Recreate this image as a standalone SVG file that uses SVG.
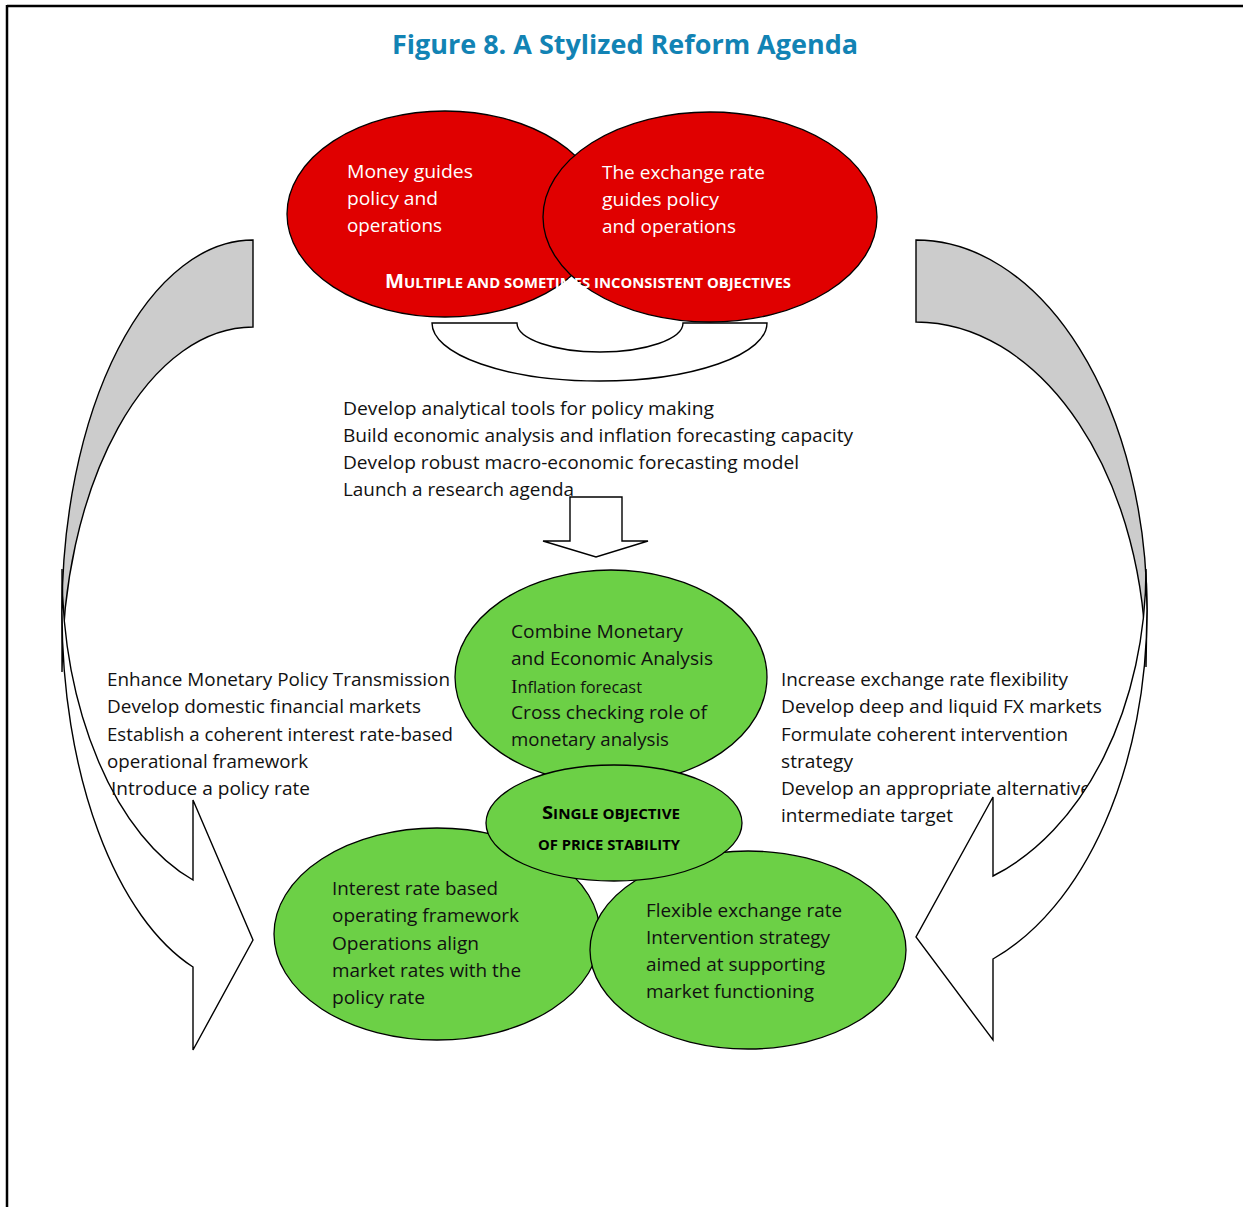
<svg xmlns="http://www.w3.org/2000/svg" width="1243" height="1207" viewBox="0 0 1243 1207">
<style>
  .t { font-family: 'Open Sans', 'Noto Sans', sans-serif; font-size: 18px; fill: #111; }
  .w { font-family: 'Open Sans', 'Noto Sans', sans-serif; font-size: 19px; fill: #fff; }
  .sc { font-family: 'Open Sans', 'Noto Sans', sans-serif; font-weight: 700; }
  .red { fill: #E00000; stroke: #000; stroke-width: 1.3; }
  .grn { fill: #6CD046; stroke: #000; stroke-width: 1.3; }
  .arr { fill: #fff; stroke: #000; stroke-width: 1.4; stroke-linejoin: miter; }
  .back { fill: #CCCCCC; stroke: #000; stroke-width: 1.4; }
</style>
<rect width="1243" height="1207" fill="#fff"/>
<g id="frame" stroke="#000" stroke-width="2.5">
  <line x1="7" y1="6" x2="1243" y2="6"/>
  <line x1="7" y1="5" x2="7" y2="1207"/>
</g>
<text id="title" x="392" y="54" textLength="466" lengthAdjust="spacingAndGlyphs" font-family="'Open Sans', 'Noto Sans', sans-serif" font-weight="700" font-size="27" fill="#1283B4">Figure 8. A Stylized Reform Agenda</text>

<g id="connectors">
  <path id="left-arrow-back" class="back" d="M253,240 A191,373 0 0 0 62,613 L62,672 A191,345 0 0 1 253,327 Z"/>
  <path id="left-arrow-front" class="arr" d="M62,613 A191,373 0 0 0 193,967 L193,1050 L253,940 L193,800 L193,880 A191,328 0 0 1 62,569 Z"/>
  <path id="right-arrow-back" class="back" d="M916,240 A231,370 0 0 1 1147,610 L1146,667 A230,345 0 0 0 916,322 Z"/>
  <path id="u-turn" class="arr" d="M432,323 L517,323 A83,29 0 0 0 683,323 L767,323 A167.5,58 0 0 1 432,323 Z"/>
  <path id="down-arrow" class="arr" d="M570,497 L622,497 L622,541 L648,541 L596,557 L543,541 L570,541 Z"/>
</g>

<g id="node-money">
  <ellipse class="red" cx="445" cy="214" rx="158" ry="103"/>
  <text class="w" x="347" y="178" textLength="126" lengthAdjust="spacingAndGlyphs">Money guides</text>
  <text class="w" x="347" y="205" textLength="91" lengthAdjust="spacingAndGlyphs">policy and</text>
  <text class="w" x="347" y="232" textLength="95" lengthAdjust="spacingAndGlyphs">operations</text>
</g>
<g id="node-exchange">
  <ellipse class="red" cx="710" cy="217" rx="167" ry="105"/>
  <text class="w" x="602" y="179" textLength="163" lengthAdjust="spacingAndGlyphs">The exchange rate</text>
  <text class="w" x="602" y="206" textLength="117" lengthAdjust="spacingAndGlyphs">guides policy</text>
  <text class="w" x="602" y="233" textLength="134" lengthAdjust="spacingAndGlyphs">and operations</text>
</g>
<text id="label-multiple" class="sc" x="385" y="288" fill="#fff" textLength="406" lengthAdjust="spacingAndGlyphs"><tspan font-size="19">M</tspan><tspan font-size="14">ULTIPLE AND SOMETIMES INCONSISTENT OBJECTIVES</tspan></text>

<g id="text-analytical">
  <text class="t" x="343" y="415" textLength="371" lengthAdjust="spacingAndGlyphs">Develop analytical tools for policy making</text>
  <text class="t" x="343" y="442" textLength="510" lengthAdjust="spacingAndGlyphs">Build economic analysis and inflation forecasting capacity</text>
  <text class="t" x="343" y="469" textLength="456" lengthAdjust="spacingAndGlyphs">Develop robust macro-economic forecasting model</text>
  <text class="t" x="343" y="496" textLength="231" lengthAdjust="spacingAndGlyphs">Launch a research agenda</text>
</g>

<g id="node-combine">
  <ellipse class="grn" cx="611" cy="677" rx="156" ry="107"/>
  <text class="t" x="511" y="638" textLength="172" lengthAdjust="spacingAndGlyphs">Combine Monetary</text>
  <text class="t" x="511" y="665" textLength="202" lengthAdjust="spacingAndGlyphs">and Economic Analysis</text>
  <text class="t" x="511" y="693" textLength="131" lengthAdjust="spacingAndGlyphs"><tspan font-family="'Liberation Serif', serif" font-size="19">I</tspan><tspan font-size="16">nflation forecast</tspan></text>
  <text class="t" x="511" y="719" textLength="196" lengthAdjust="spacingAndGlyphs">Cross checking role of</text>
  <text class="t" x="511" y="746" textLength="158" lengthAdjust="spacingAndGlyphs">monetary analysis</text>
</g>
<g id="node-interest">
  <ellipse class="grn" cx="437" cy="934" rx="163" ry="106"/>
  <text class="t" x="332" y="895" textLength="166" lengthAdjust="spacingAndGlyphs">Interest rate based</text>
  <text class="t" x="332" y="922" textLength="187" lengthAdjust="spacingAndGlyphs">operating framework</text>
  <text class="t" x="332" y="950" textLength="147" lengthAdjust="spacingAndGlyphs">Operations align</text>
  <text class="t" x="332" y="977" textLength="189" lengthAdjust="spacingAndGlyphs">market rates with the</text>
  <text class="t" x="332" y="1004" textLength="93" lengthAdjust="spacingAndGlyphs">policy rate</text>
</g>
<g id="node-flexible">
  <ellipse class="grn" cx="748" cy="950" rx="158" ry="99"/>
  <text class="t" x="646" y="917" textLength="196" lengthAdjust="spacingAndGlyphs">Flexible exchange rate</text>
  <text class="t" x="646" y="944" textLength="184" lengthAdjust="spacingAndGlyphs">Intervention strategy</text>
  <text class="t" x="646" y="971" textLength="179" lengthAdjust="spacingAndGlyphs">aimed at supporting</text>
  <text class="t" x="646" y="998" textLength="168" lengthAdjust="spacingAndGlyphs">market functioning</text>
</g>
<g id="node-single">
  <ellipse class="grn" cx="614" cy="823" rx="128" ry="58"/>
  <text class="sc" x="542" y="819" fill="#000" textLength="138" lengthAdjust="spacingAndGlyphs"><tspan font-size="18">S</tspan><tspan font-size="13.5">INGLE OBJECTIVE</tspan></text>
  <text class="sc" x="538" y="850" fill="#000" font-size="13.5" textLength="142" lengthAdjust="spacingAndGlyphs">OF PRICE STABILITY</text>
</g>

<g id="text-left">
  <text class="t" x="107" y="686" textLength="343" lengthAdjust="spacingAndGlyphs">Enhance Monetary Policy Transmission</text>
  <text class="t" x="107" y="713" textLength="314" lengthAdjust="spacingAndGlyphs">Develop domestic financial markets</text>
  <text class="t" x="107" y="741" textLength="346" lengthAdjust="spacingAndGlyphs">Establish a coherent interest rate-based</text>
  <text class="t" x="107" y="768" textLength="201" lengthAdjust="spacingAndGlyphs">operational framework</text>
  <text class="t" x="111" y="795" textLength="199" lengthAdjust="spacingAndGlyphs">Introduce a policy rate</text>
</g>
<g id="text-right">
  <text class="t" x="781" y="686" textLength="287" lengthAdjust="spacingAndGlyphs">Increase exchange rate flexibility</text>
  <text class="t" x="781" y="713" textLength="321" lengthAdjust="spacingAndGlyphs">Develop deep and liquid FX markets</text>
  <text class="t" x="781" y="741" textLength="287" lengthAdjust="spacingAndGlyphs">Formulate coherent intervention</text>
  <text class="t" x="781" y="768" textLength="72" lengthAdjust="spacingAndGlyphs">strategy</text>
  <text class="t" x="781" y="795" textLength="310" lengthAdjust="spacingAndGlyphs">Develop an appropriate alternative</text>
  <text class="t" x="781" y="822" textLength="172" lengthAdjust="spacingAndGlyphs">intermediate target</text>
</g>
<g id="connectors-front">
  <path id="right-arrow-front" class="arr" d="M1147,610 A231,370 0 0 1 993,959 L993,1040 L916,937 L993,797 L993,876 A230,326 0 0 0 1146,569 Z"/>
</g>
</svg>
